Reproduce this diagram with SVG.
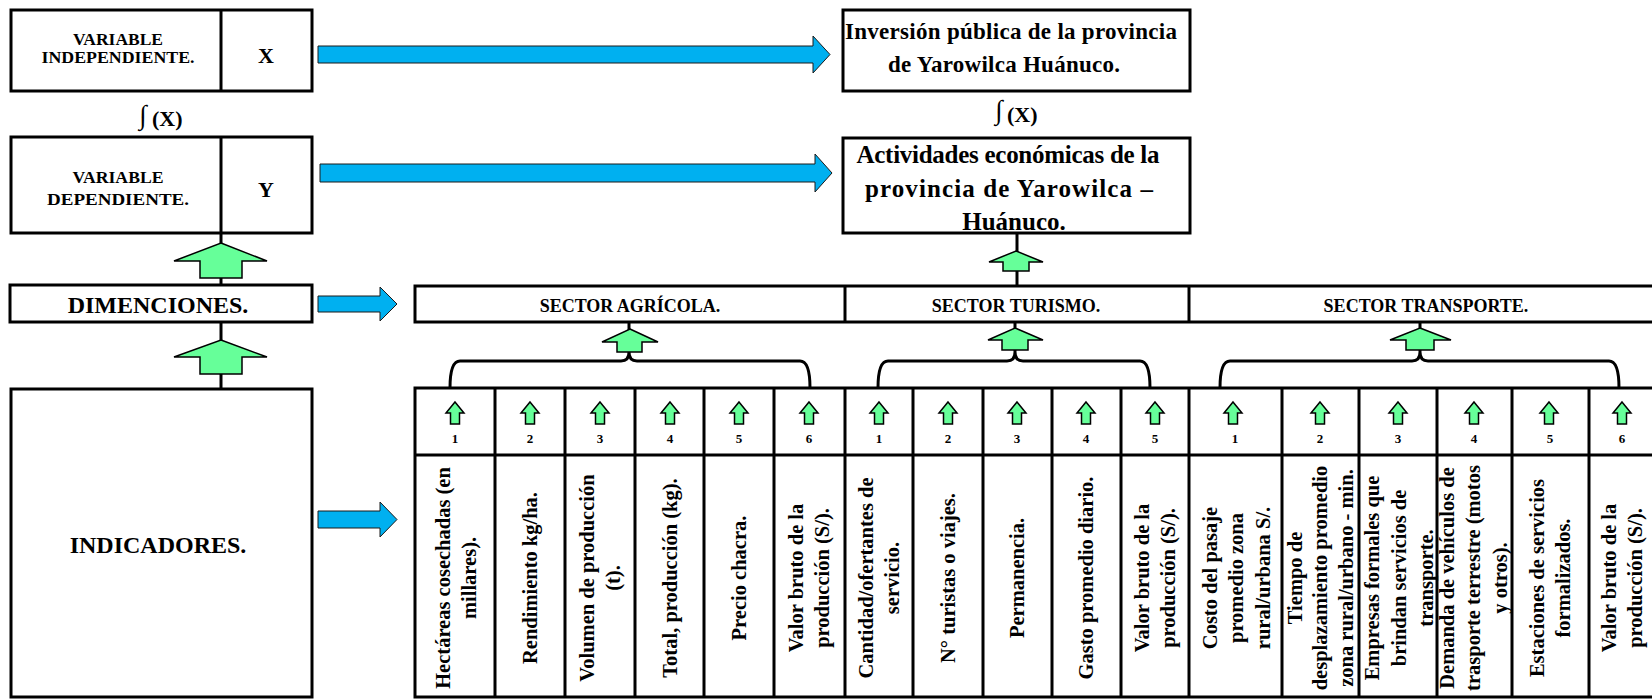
<svg xmlns="http://www.w3.org/2000/svg" width="1652" height="699" viewBox="0 0 1652 699">
<style>
text{font-family:"Liberation Serif","Times New Roman",serif;font-weight:bold;fill:#000}
.box{fill:#fff;stroke:#000;stroke-width:3}
.ln{stroke:#000;stroke-width:3;fill:none}
.blue{fill:#00B0F0;stroke:#1a1a1a;stroke-width:1}
.green{fill:#66FF99;stroke:#000;stroke-width:1.5}
.vt{font-size:20.5px;text-anchor:middle}
.num{font-size:13px;text-anchor:middle}
.mid{text-anchor:middle}
.int{font-weight:normal;font-size:27px}
</style>
<defs>
<path id="sa" class="green" d="M0,0 L9,11 L4.5,11 L4.5,22 L-4.5,22 L-4.5,11 L-9,11 Z"/>
</defs>
<rect x="0" y="0" width="1652" height="699" fill="#fff"/>

<g id="connectors">
<line class="ln" x1="221" y1="233" x2="221" y2="286"/>
<line class="ln" x1="221" y1="321" x2="221" y2="390"/>
<line class="ln" x1="1017" y1="234" x2="1017" y2="287"/>
<line class="ln" x1="629" y1="322" x2="629" y2="352"/>
<line class="ln" x1="1015" y1="322" x2="1015" y2="352"/>
<line class="ln" x1="1420" y1="322" x2="1420" y2="352"/>
<path class="ln" d="M450,388 Q450,361 460,361 H621 Q629,361 629,352 Q629,361 637,361 H800 Q810,361 810,388"/>
<path class="ln" d="M878,388 Q878,361 888,361 H1007 Q1015,361 1015,352 Q1015,361 1023,361 H1140 Q1150,361 1150,388"/>
<path class="ln" d="M1220,388 Q1220,361 1230,361 H1412 Q1420,361 1420,352 Q1420,361 1428,361 H1609 Q1619,361 1619,388"/>
<polygon class="blue" points="318,46 813,46 813,36 830,54.5 813,73 813,63 318,63"/>
<polygon class="blue" points="320,164 815,164 815,154 832,173 815,192 815,182 320,182"/>
<polygon class="blue" points="318,296 380,296 380,287 397,304 380,321 380,312 318,312"/>
<polygon class="blue" points="318,511 380,511 380,502 397,519.5 380,537 380,528 318,528"/>
<polygon class="green" points="221,243 267,261 242,261 242,278 200,278 200,261 174,261"/>
<polygon class="green" points="221,340 267,357 242,357 242,374 200,374 200,357 174,357"/>
<polygon class="green" points="1016,251 1043,262 1029,262 1029,271 1003,271 1003,262 989,262"/>
<polygon class="green" points="630,329 658,342 642,342 642,352 617,352 617,342 602,342"/>
<polygon class="green" points="1015,328 1043,340 1028,340 1028,350 1002,350 1002,340 988,340"/>
<polygon class="green" points="1420,328 1451,340 1434,340 1434,350 1406,350 1406,340 1390,340"/>
</g>

<g id="var-independiente">
<rect class="box" x="11" y="10" width="301" height="81"/>
<line class="ln" x1="221" y1="10" x2="221" y2="91"/>
<text class="mid" x="118" y="45" font-size="17" textLength="90" lengthAdjust="spacingAndGlyphs">VARIABLE</text>
<text class="mid" x="118" y="63" font-size="17" textLength="153" lengthAdjust="spacingAndGlyphs">INDEPENDIENTE.</text>
<text class="mid" x="266" y="63" font-size="22">X</text>
</g>
<g id="fx-1">
<text class="int" x="139" y="124">∫</text>
<text x="152" y="126" font-size="22">(X)</text>
</g>

<g id="var-dependiente">
<rect class="box" x="11" y="137" width="301" height="96"/>
<line class="ln" x1="221" y1="137" x2="221" y2="233"/>
<text class="mid" x="118" y="183" font-size="17" textLength="91" lengthAdjust="spacingAndGlyphs">VARIABLE</text>
<text class="mid" x="118" y="205" font-size="17" textLength="142" lengthAdjust="spacingAndGlyphs">DEPENDIENTE.</text>
<text class="mid" x="266" y="197" font-size="22">Y</text>
</g>

<g id="inversion">
<rect class="box" x="843" y="10" width="347" height="81"/>
<text class="mid" x="1011" y="39" font-size="23" textLength="332" lengthAdjust="spacing">Inversión pública de la provincia</text>
<text class="mid" x="1004" y="72" font-size="23" textLength="232" lengthAdjust="spacing">de Yarowilca Huánuco.</text>
</g>
<g id="fx-2">
<text class="int" x="995" y="119">∫</text>
<text x="1007" y="122" font-size="22">(X)</text>
</g>

<g id="actividades">
<rect class="box" x="843" y="138" width="347" height="95"/>
<text class="mid" x="1008" y="163" font-size="25" textLength="303" lengthAdjust="spacing">Actividades económicas de la</text>
<text class="mid" x="1009" y="197" font-size="25" textLength="288" lengthAdjust="spacing">provincia de Yarowilca –</text>
<text class="mid" x="1014" y="230" font-size="25">Huánuco.</text>
</g>

<g id="dimenciones">
<rect class="box" x="10" y="285" width="302" height="37"/>
<text class="mid" x="158" y="313" font-size="24">DIMENCIONES.</text>
</g>

<g id="indicadores">
<rect class="box" x="11" y="389" width="301" height="308"/>
<text class="mid" x="158" y="553" font-size="24">INDICADORES.</text>
</g>

<g id="sectores">
<rect class="box" x="415" y="286" width="1250" height="36"/>
<line class="ln" x1="845" y1="286" x2="845" y2="322"/>
<line class="ln" x1="1189" y1="286" x2="1189" y2="322"/>
<text class="mid" x="630" y="312" font-size="18">SECTOR AGRÍCOLA.</text>
<text class="mid" x="1016" y="312" font-size="18">SECTOR TURISMO.</text>
<text class="mid" x="1426" y="312" font-size="18">SECTOR TRANSPORTE.</text>
</g>

<g id="tabla">
<rect class="box" x="415" y="388" width="1250" height="309"/>
<line class="ln" x1="415" y1="455" x2="1665" y2="455"/>
<g class="ln">
<line x1="495" y1="388" x2="495" y2="697"/><line x1="565" y1="388" x2="565" y2="697"/>
<line x1="635" y1="388" x2="635" y2="697"/><line x1="704" y1="388" x2="704" y2="697"/>
<line x1="774" y1="388" x2="774" y2="697"/><line x1="845" y1="388" x2="845" y2="697"/>
<line x1="913" y1="388" x2="913" y2="697"/><line x1="983" y1="388" x2="983" y2="697"/>
<line x1="1052" y1="388" x2="1052" y2="697"/><line x1="1121" y1="388" x2="1121" y2="697"/>
<line x1="1189" y1="388" x2="1189" y2="697"/><line x1="1282" y1="388" x2="1282" y2="697"/>
<line x1="1359" y1="388" x2="1359" y2="697"/><line x1="1437" y1="388" x2="1437" y2="697"/>
<line x1="1512" y1="388" x2="1512" y2="697"/><line x1="1589" y1="388" x2="1589" y2="697"/>
</g>
</g>

<g id="ind-agricola">
<use href="#sa" x="455" y="402"/><text class="num" x="455" y="443">1</text>
<use href="#sa" x="530" y="402"/><text class="num" x="530" y="443">2</text>
<use href="#sa" x="600" y="402"/><text class="num" x="600" y="443">3</text>
<use href="#sa" x="670" y="402"/><text class="num" x="670" y="443">4</text>
<use href="#sa" x="739" y="402"/><text class="num" x="739" y="443">5</text>
<use href="#sa" x="809" y="402"/><text class="num" x="809" y="443">6</text>
<text class="vt" transform="translate(456,578) rotate(-90)"><tspan x="0" y="-6.25">Hectáreas cosechadas (en</tspan><tspan x="0" y="20.25">millares).</tspan></text>
<text class="vt" transform="translate(530,578) rotate(-90)"><tspan x="0" y="7">Rendimiento kg/ha.</tspan></text>
<text class="vt" transform="translate(600,578) rotate(-90)"><tspan x="0" y="-6.25">Volumen de producción</tspan><tspan x="0" y="20.25">(t).</tspan></text>
<text class="vt" transform="translate(670,578) rotate(-90)"><tspan x="0" y="7">Total, producción (kg).</tspan></text>
<text class="vt" transform="translate(739,578) rotate(-90)"><tspan x="0" y="7">Precio chacra.</tspan></text>
<text class="vt" transform="translate(809,578) rotate(-90)"><tspan x="0" y="-6.25">Valor bruto de la</tspan><tspan x="0" y="20.25">producción (S/).</tspan></text>
</g>

<g id="ind-turismo">
<use href="#sa" x="879" y="402"/><text class="num" x="879" y="443">1</text>
<use href="#sa" x="948" y="402"/><text class="num" x="948" y="443">2</text>
<use href="#sa" x="1017" y="402"/><text class="num" x="1017" y="443">3</text>
<use href="#sa" x="1086" y="402"/><text class="num" x="1086" y="443">4</text>
<use href="#sa" x="1155" y="402"/><text class="num" x="1155" y="443">5</text>
<text class="vt" transform="translate(879,578) rotate(-90)"><tspan x="0" y="-6.25">Cantidad/ofertantes de</tspan><tspan x="0" y="20.25">servicio.</tspan></text>
<text class="vt" transform="translate(948,578) rotate(-90)"><tspan x="0" y="7">N° turistas o viajes.</tspan></text>
<text class="vt" transform="translate(1017,578) rotate(-90)"><tspan x="0" y="7">Permanencia.</tspan></text>
<text class="vt" transform="translate(1086,578) rotate(-90)"><tspan x="0" y="7">Gasto promedio diario.</tspan></text>
<text class="vt" transform="translate(1155,578) rotate(-90)"><tspan x="0" y="-6.25">Valor bruto de la</tspan><tspan x="0" y="20.25">producción (S/).</tspan></text>
</g>

<g id="ind-transporte">
<use href="#sa" x="1233" y="402"/><text class="num" x="1235" y="443">1</text>
<use href="#sa" x="1320" y="402"/><text class="num" x="1320" y="443">2</text>
<use href="#sa" x="1398" y="402"/><text class="num" x="1398" y="443">3</text>
<use href="#sa" x="1474" y="402"/><text class="num" x="1474" y="443">4</text>
<use href="#sa" x="1549" y="402"/><text class="num" x="1550" y="443">5</text>
<use href="#sa" x="1622" y="402"/><text class="num" x="1622" y="443">6</text>
<text class="vt" transform="translate(1236,578) rotate(-90)"><tspan x="0" y="-19.5">Costo del pasaje</tspan><tspan x="0" y="7">promedio zona</tspan><tspan x="0" y="33.5">rural/urbana S/.</tspan></text>
<text class="vt" transform="translate(1320,578) rotate(-90)"><tspan x="0" y="-18.5">Tiempo de</tspan><tspan x="0" y="7">desplazamiento promedio</tspan><tspan x="0" y="32.5">zona rural/urbano - min.</tspan></text>
<text class="vt" transform="translate(1399,578) rotate(-90)"><tspan x="0" y="-20">Empresas formales que</tspan><tspan x="0" y="7">brindan servicios de</tspan><tspan x="0" y="34">transporte.</tspan></text>
<text class="vt" transform="translate(1473,578) rotate(-90)"><tspan x="0" y="-19.5">Demanda de vehículos de</tspan><tspan x="0" y="7">trasporte terrestre (motos</tspan><tspan x="0" y="33.5">y otros).</tspan></text>
<text class="vt" transform="translate(1550,578) rotate(-90)"><tspan x="0" y="-6.25">Estaciones de servicios</tspan><tspan x="0" y="20.25">formalizados.</tspan></text>
<text class="vt" transform="translate(1622,578) rotate(-90)"><tspan x="0" y="-6.25">Valor bruto de la</tspan><tspan x="0" y="20.25">producción (S/).</tspan></text>
</g>
</svg>
